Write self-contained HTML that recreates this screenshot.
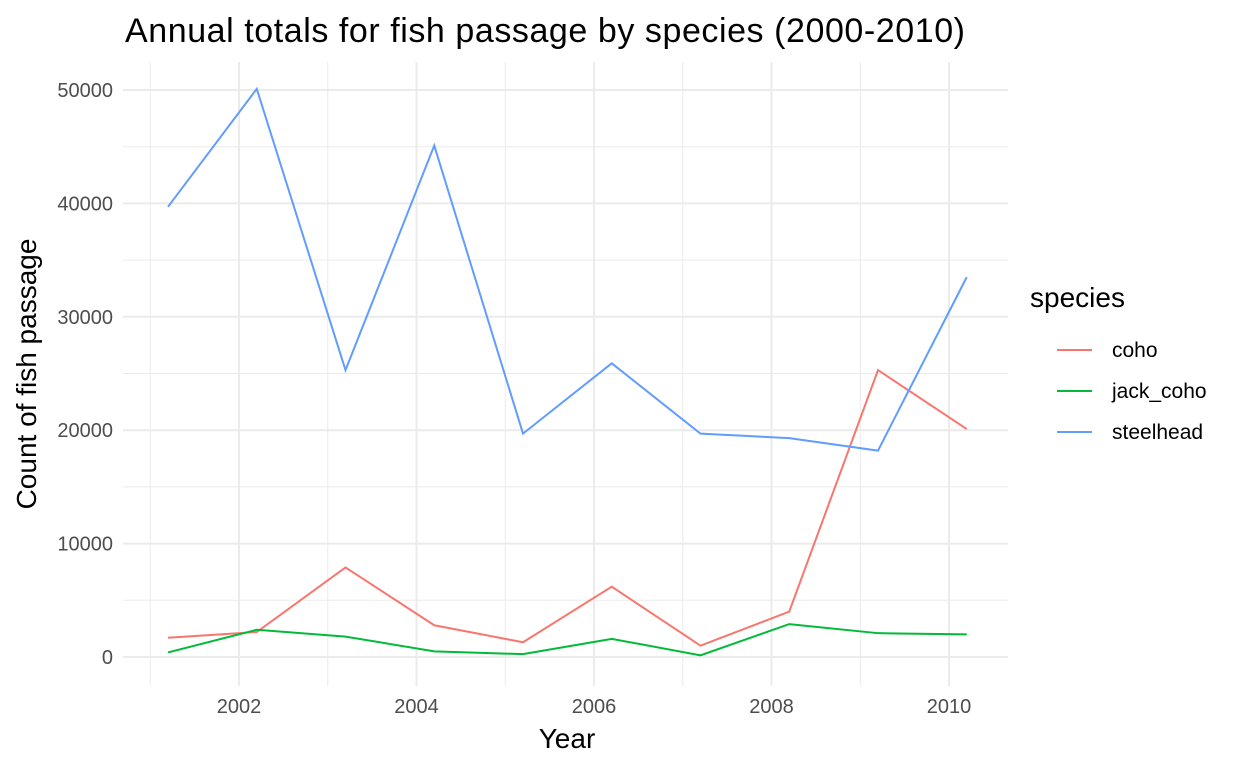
<!DOCTYPE html>
<html><head><meta charset="utf-8"><style>
body{margin:0;background:#fff;font-family:"Liberation Sans",sans-serif}
</style></head><body>
<svg width="1248" height="768">
<g id="grid"></g>
<g id="lines"></g>
<g id="axes"></g>
<text x="125" y="42" font-size="34" fill="#000" textLength="840">Annual totals for fish passage by species (2000-2010)</text>
<text x="567" y="748" font-size="28" text-anchor="middle">Year</text>
<text transform="translate(36,374) rotate(-90)" font-size="28" text-anchor="middle">Count of fish passage</text>
<g>
<text x="1030" y="307" font-size="28">species</text>
<g id="legend"></g>
</g>
</svg>
<script>
const years=[2001.2,2002.2,2003.2,2004.2,2005.2,2006.2,2007.2,2008.2,2009.2,2010.2];
const coho=[1700,2200,7900,2800,1300,6200,1000,4000,25300,20100];
const jackCoho=[400,2400,1800,500,250,1600,150,2900,2100,2000];
const steelhead=[39700,50100,25300,45100,19700,25900,19700,19300,18200,33500];
const xTicks=[2002,2004,2006,2008,2010];
const yTicks=[0,10000,20000,30000,40000,50000];
const seriesNames=["coho","jack_coho","steelhead"];
const seriesColors=["#F8766D","#00BA38","#619CFF"];
const X=v=>239+(v-2002)*88.75, Y=v=>657-v*0.01134;
const NS="http://www.w3.org/2000/svg";
function mk(p,t,a){const e=document.createElementNS(NS,t);for(const k in a)e.setAttribute(k,a[k]);p.appendChild(e);return e;}
const g=document.getElementById('grid'),ax=document.getElementById('axes'),L=document.getElementById('lines'),lg=document.getElementById('legend');
const x0=123,x1=1008,y0=62,y1=686;
for(let v=2001;v<=2010;v++){const major=v%2==0;const l=mk(g,'line',{x1:X(v),x2:X(v),y1:y0,y2:y1,stroke:'#ebebeb','stroke-width':major?2:1});
}
for(let v=0;v<=50000;v+=5000){const major=v%10000==0;const l=mk(g,'line',{x1:x0,x2:x1,y1:Y(v),y2:Y(v),stroke:'#ebebeb','stroke-width':major?2:1});
}
xTicks.forEach(v=>{const t=mk(ax,'text',{x:X(v),y:713,'font-size':20,fill:'#4d4d4d','text-anchor':'middle'});t.textContent=v;
});
yTicks.forEach(v=>{const t=mk(ax,'text',{x:113,y:Y(v)+7,'font-size':20,fill:'#4d4d4d','text-anchor':'end'});t.textContent=v;
});
[coho,jackCoho,steelhead].forEach((d,i)=>{const p=mk(L,'polyline',{points:d.map((v,j)=>X(years[j])+','+Y(v)).join(' '),fill:'none',stroke:seriesColors[i],'stroke-width':2});

const ly=350+i*41;const ll=mk(lg,'line',{x1:1057,x2:1092,y1:ly,y2:ly,stroke:seriesColors[i],'stroke-width':2});

const lt=mk(lg,'text',{x:1112,y:ly+7,'font-size':21,fill:'#000'});lt.textContent=seriesNames[i];
});
</script>
</body></html>
